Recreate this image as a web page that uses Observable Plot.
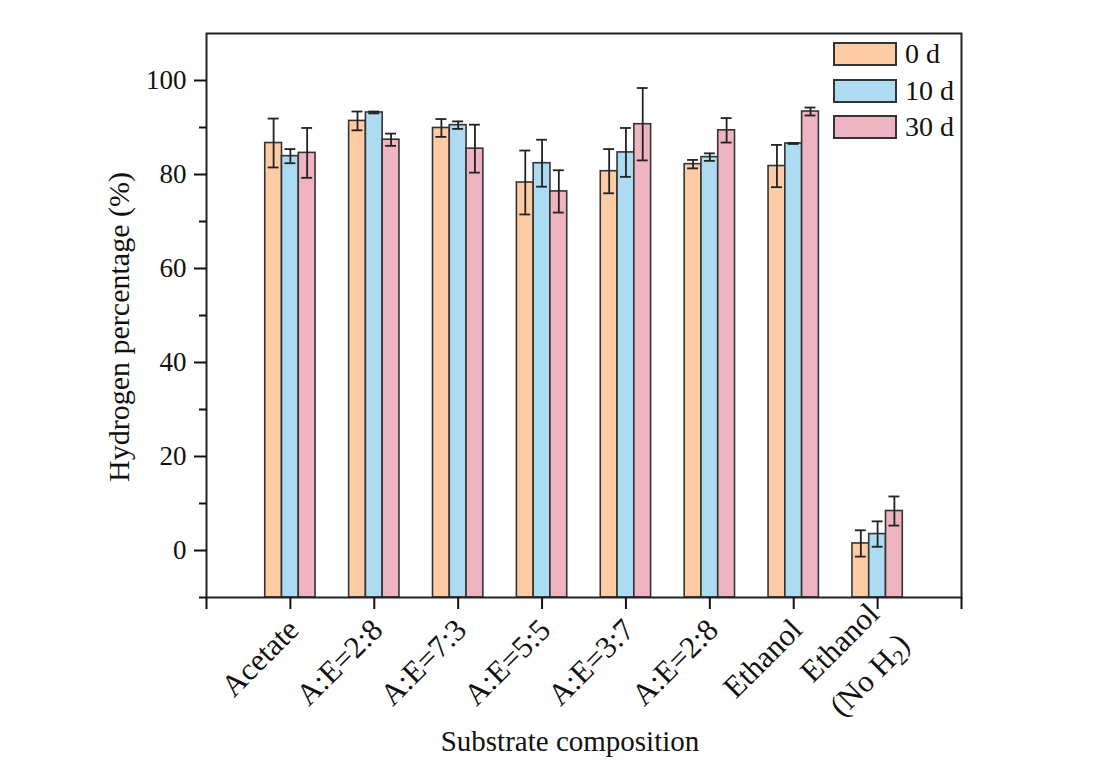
<!DOCTYPE html>
<html>
<head>
<meta charset="utf-8">
<script src="https://cdn.jsdelivr.net/npm/d3@7"></script>
<script src="https://cdn.jsdelivr.net/npm/@observablehq/plot@0.6"></script>
<style>
  html, body { margin: 0; padding: 0; background: #fff; }
  #wrap { position: relative; width: 1102px; height: 778px; }
  #legend { position: absolute; left: 833px; top: 42px; font-family: "Liberation Serif", "Times New Roman", serif; font-size: 28px; color: #111; }
  .row { display: flex; align-items: center; height: 24px; margin-bottom: 12.5px; }
  .sw { width: 60px; height: 20px; border: 2px solid #333; margin-right: 8px; }
</style>
</head>
<body>
<div id="wrap"><div id="legend"></div></div>
<script>
const categories = ["Acetate", "A:E=2:8", "A:E=7:3", "A:E=5:5", "A:E=3:7", "A:E=2:8", "Ethanol", "Ethanol\n(No H2)"];
const series = ["0 d", "10 d", "30 d"];
const colors = ["#FDCBA4", "#ADDBF1", "#EFB4C1"];

const values0d  = [86.7, 91.4, 89.9, 78.3, 80.7, 82.2, 81.8, 1.5];
const errors0d  = [5.2, 2.0, 1.9, 6.8, 4.7, 0.9, 4.5, 2.8];
const values10d = [83.9, 93.2, 90.5, 82.4, 84.7, 83.7, 86.6, 3.5];
const errors10d = [1.5, 0.2, 0.8, 5.0, 5.2, 0.8, 0.1, 2.7];
const values30d = [84.6, 87.4, 85.5, 76.4, 90.7, 89.4, 93.4, 8.4];
const errors30d = [5.3, 1.3, 5.1, 4.5, 7.7, 2.6, 0.85, 3.1];

const yTicks = [0, 20, 40, 60, 80, 100];
const yMinorTicks = [-10, 10, 30, 50, 70, 90];

const allValues = [values0d, values10d, values30d];
const allErrors = [errors0d, errors10d, errors30d];

const data = categories.flatMap((c, i) => series.map((s, j) => ({
  cat: c, pos: i + 1, s, j, v: allValues[j][i], e: allErrors[j][i]
})));

const barW = 0.2, capW = 0.065;
const xc = d => d.pos + (d.j - 1) * barW;

const font = '"Liberation Serif", "Times New Roman", serif';

const plot = Plot.plot({
  width: 1102, height: 778,
  marginLeft: 206, marginRight: 141, marginTop: 33, marginBottom: 181,
  x: { domain: [0, categories.length + 1] },
  y: { domain: [-10, 110] },
  color: { domain: series, range: colors },
  style: { fontFamily: font, fontSize: "27px", color: "#111", background: "white", overflow: "visible" },
  marks: [
    Plot.rect(data, { x1: d => xc(d) - barW / 2, x2: d => xc(d) + barW / 2, y1: -10, y2: "v", fill: "s", stroke: "#333", strokeWidth: 1.6 }),
    Plot.ruleX(data, { x: xc, y1: d => d.v - d.e, y2: d => d.v + d.e, stroke: "#222", strokeWidth: 1.8 }),
    Plot.ruleY(data, { y: d => d.v + d.e, x1: d => xc(d) - capW, x2: d => xc(d) + capW, stroke: "#222", strokeWidth: 1.8 }),
    Plot.ruleY(data, { y: d => d.v - d.e, x1: d => xc(d) - capW, x2: d => xc(d) + capW, stroke: "#222", strokeWidth: 1.8 }),
    Plot.frame({ stroke: "#222", strokeWidth: 2 }),
    Plot.axisY({ ticks: yTicks, tickSize: 12, tickPadding: 8, label: null, strokeWidth: 2, fontSize: 27 }),
    Plot.axisY({ ticks: yMinorTicks, tickSize: 7, tickFormat: () => "", label: null, strokeWidth: 2 }),
    Plot.axisX({ ticks: categories.map((c, i) => i + 1), tickFormat: i => categories[i - 1], tickRotate: -45, tickSize: 12, tickPadding: 12, label: null, strokeWidth: 2, lineHeight: 1.45, fontSize: 31 }),
    Plot.axisX({ ticks: [0, categories.length + 1], tickFormat: () => "", tickSize: 12, label: null, strokeWidth: 2 })
  ]
});

const svg = d3.select(plot);
// subscript in "H2" and slight shift of the two-line label
svg.selectAll("tspan").filter(function() { return this.textContent === "(No H2)"; }).each(function() {
  const t = d3.select(this);
  t.text(null);
  t.append("tspan").text("(No H");
  t.append("tspan").attr("dy", "0.25em").attr("font-size", "70%").text("2");
  t.append("tspan").attr("dy", "-0.25em").text(")");
  const txt = this.parentNode;
  txt.setAttribute("transform", "translate(9,0) " + (txt.getAttribute("transform") || ""));
});
// axis titles
svg.append("text").attr("x", 570).attr("y", 751).attr("text-anchor", "middle")
  .attr("font-family", font).attr("font-size", 29).attr("fill", "#111").text("Substrate composition");
svg.append("text").attr("transform", "translate(129,327) rotate(-90)").attr("text-anchor", "middle")
  .attr("font-family", font).attr("font-size", 30).attr("fill", "#111").text("Hydrogen percentage (%)");

document.getElementById("wrap").prepend(plot);

const legend = d3.select("#legend");
series.forEach((s, i) => {
  const row = legend.append("div").attr("class", "row");
  row.append("div").attr("class", "sw").style("background", colors[i]);
  row.append("span").text(s);
});
</script>
</body>
</html>
